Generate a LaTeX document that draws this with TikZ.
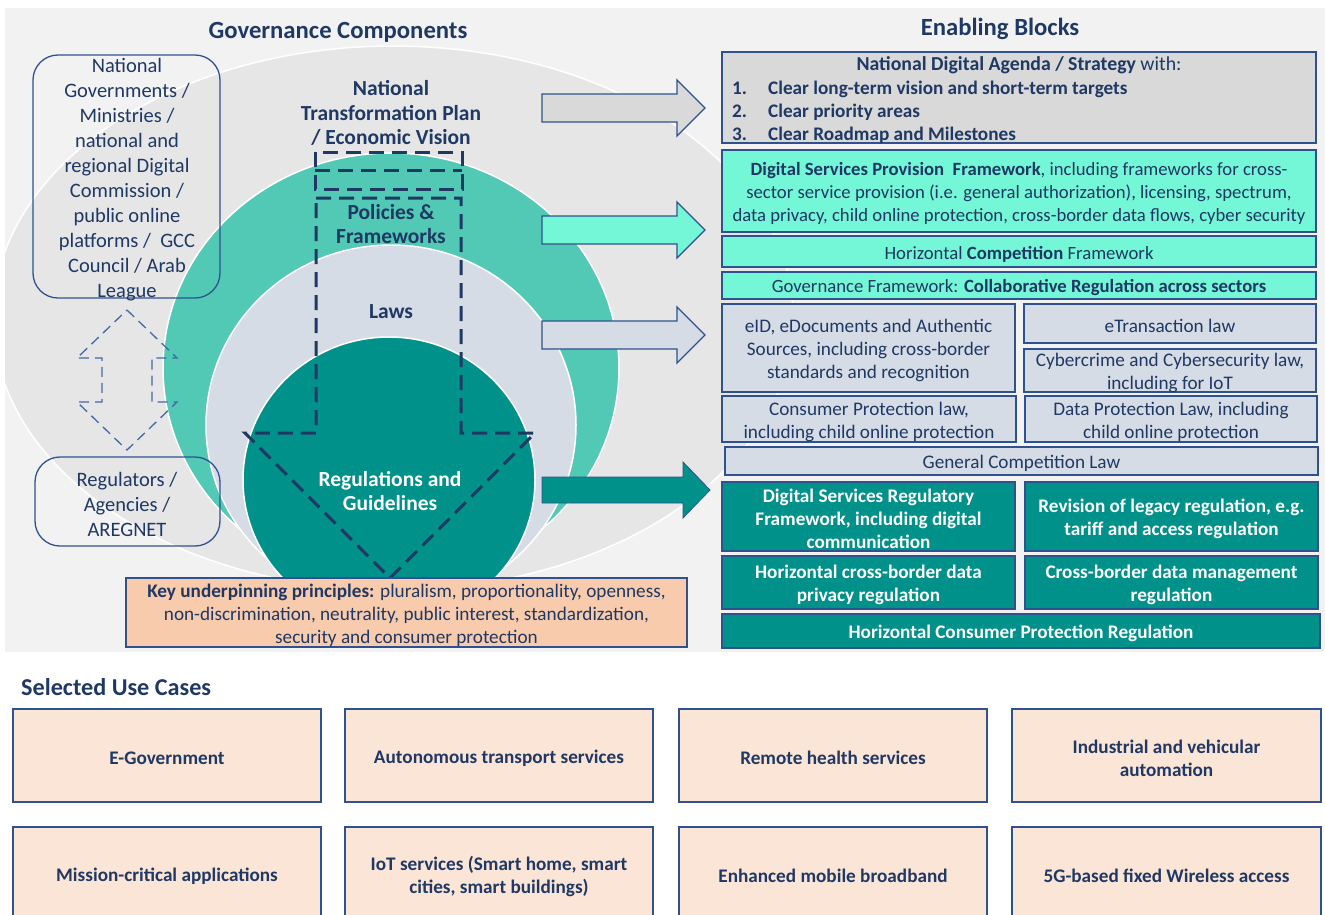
\documentclass[tikz,border=0pt]{standalone}
\usepackage{fontspec}
\setmainfont{Carlito}
\usetikzlibrary{calc}

\definecolor{navy}{HTML}{1F3864}
\definecolor{bord}{HTML}{2F528F}
\definecolor{panelc}{HTML}{F2F2F2}
\definecolor{ellgrey}{HTML}{E6E6E6}
\definecolor{tealc}{HTML}{52C9B5}
\definecolor{lawsc}{HTML}{D6DCE5}
\definecolor{dteal}{HTML}{00918B}
\definecolor{aquac}{HTML}{74F7D7}
\definecolor{greyc}{HTML}{D9D9D9}
\definecolor{peachc}{HTML}{F8CBAD}
\definecolor{ucpeach}{HTML}{FBE5D6}
\definecolor{dashblue}{HTML}{4468A8}

\newcommand\fsbox{\fontsize{19.2}{23}\selectfont}
\newcommand\fsaqua{\fontsize{18.7}{22.7}\selectfont}
\newcommand\fstitle{\fontsize{24.7}{30}\selectfont}
\newcommand\fslabel{\fontsize{21.5}{24.5}\selectfont}
\newcommand\fsleft{\fontsize{20.5}{25}\selectfont}

% box node from corner (x1,y1) to (x2,y2) with a separate text node on top
\newcommand\blk[7]{%
  \pgfmathsetmacro\blkx{(#2+#4)/2}%
  \pgfmathsetmacro\blky{(#3+#5)/2}%
  \pgfmathsetmacro\blkw{#4-#2}%
  \pgfmathsetmacro\blkh{#5-#3}%
  \node[#6, minimum width=\blkw pt, minimum height=\blkh pt] (#1) at (\blkx,\blky) {};
  \node[#6, draw=none, fill=none, yshift=-2.5pt] (#1-t) at (#1.center) {#7};}

\tikzset{
  tbox/.style={draw=bord, line width=1.3pt, inner sep=0pt, outer sep=0pt,
    align=center, text=navy, font=\fsbox},
  greyblk/.style={tbox, fill=greyc},
  aquablk/.style={tbox, fill=aquac, font=\fsaqua},
  lawblk/.style={tbox, fill=lawsc},
  regblk/.style={tbox, fill=dteal, text=white, font=\fsbox\bfseries},
  prinblk/.style={tbox, fill=peachc},
  usecase/.style={tbox, fill=ucpeach, font=\fsbox\bfseries},
  govbox/.style={draw=bord, line width=1.3pt, rounded corners=25pt, inner sep=0pt, outer sep=0pt},
  blockarrow/.style={draw=bord, line width=1.3pt, line join=miter},
  bigdash/.style={draw=navy, line width=3pt, dash pattern=on 15pt off 8pt},
  smalldash/.style={draw=dashblue, line width=1.3pt, dash pattern=on 10pt off 6pt},
  ring/.style={draw=white, line width=1.5pt},
  heading/.style={font=\fstitle\bfseries, text=navy, inner sep=0pt},
  ctrlabel/.style={font=\fslabel\bfseries, text=navy, align=center, inner sep=0pt},
}

\begin{document}
\begin{tikzpicture}[x=1pt,y=-1pt]
\useasboundingbox (0,0) rectangle (1325,914);
\fill[white] (0,0) rectangle (1325,914);

% upper panel
\fill[panelc] (5,8) rectangle (1325,652);

% nested governance layers
\begin{scope}
  \clip (5,8) rectangle (1325,652);
  \fill[ellgrey] (393,318) ellipse [x radius=400pt, y radius=272pt];
  \draw[ring] (393,318) ellipse [x radius=400pt, y radius=272pt];
\end{scope}
\fill[tealc] (391,368) ellipse [x radius=228pt, y radius=215pt];
\draw[ring] (391,368) ellipse [x radius=228pt, y radius=215pt];
\fill[lawsc] (391,425) ellipse [x radius=185pt, y radius=180pt];
\draw[ring] (391,425) ellipse [x radius=185pt, y radius=180pt];
\fill[dteal] (389,480) ellipse [x radius=146pt, y radius=143pt];
\draw[ring] (389,480) ellipse [x radius=146pt, y radius=143pt];

% headings
\node[heading] (gov-head) at (338,32) {Governance Components};
\node[heading] (enab-head) at (1000,29) {Enabling Blocks};

% layer labels
\node[ctrlabel] (ntp) at (391,113) {National\\Transformation Plan\\/ Economic Vision};
\node[ctrlabel] (pol) at (391,224) {Policies \&\\Frameworks};
\node[ctrlabel] (laws) at (391,312) {Laws};
\node[ctrlabel, text=white] (regs) at (390,491) {Regulations and\\Guidelines};

% dashed downward arrow through the layers
\draw[bigdash] (315,152) rectangle (462,189);
\draw[bigdash] (315,170) -- (462,170);
\draw[bigdash] (316,198) -- (461,198) -- (461,433) -- (535,433) -- (390,578)
  -- (245,433) -- (316,433) -- cycle;

% actors on the left
\blk{natgov}{33}{55}{220}{298}{govbox}{}
\node[font=\fsleft, text=navy, align=center, inner sep=0pt] (natgov-txt) at (127,180)
  {National\\Governments /\\Ministries /\\national and\\regional Digital\\Commission /\\public online\\platforms /\ \ GCC\\Council / Arab\\League};
\blk{regul}{35}{457}{220}{546}{govbox}{}
\node[font=\fsleft, text=navy, align=center, inner sep=0pt] (regul-txt) at (127,504)
  {Regulators /\\Agencies /\\AREGNET};

% two-way dashed arrow between the actors
\draw[smalldash] (127,310) -- (177,358) -- (152,358) -- (152,402) -- (177,402)
  -- (127,450) -- (77,402) -- (102,402) -- (102,358) -- (77,358) -- cycle;

% principles
\blk{prin}{126}{578}{687}{647}{prinblk}{\textbf{Key underpinning principles:} pluralism, proportionality, openness,\\non-discrimination, neutrality, public interest, standardization,\\security and consumer protection}

% block arrows towards the enabling blocks
\draw[blockarrow, fill=greyc] (542,94) -- (677,94) -- (677,80) -- (705,108) -- (677,136) -- (677,122) -- (542,122) -- cycle;
\draw[blockarrow, fill=aquac] (542,216) -- (677,216) -- (677,202) -- (705,230) -- (677,258) -- (677,244) -- (542,244) -- cycle;
\draw[blockarrow, fill=lawsc] (542,321) -- (677,321) -- (677,307) -- (705,335) -- (677,363) -- (677,349) -- (542,349) -- cycle;
\draw[blockarrow, fill=dteal, line width=0.8pt] (542,477) -- (683,477) -- (683,462) -- (710,490) -- (683,518) -- (683,503) -- (542,503) -- cycle;

% enabling blocks: strategy
\blk{agenda}{722}{52}{1316}{143}{greyblk}{}
\node[font=\fsbox, text=navy, inner sep=0pt] (agenda-t) at (1019,65)
  {\fontsize{19.8}{23}\selectfont\textbf{National Digital Agenda / Strategy} with:};
\node[anchor=west, font=\fsbox\bfseries, text=navy, inner sep=0pt] (agenda-1) at (732,89)
  {\makebox[36pt][l]{1.}Clear long-term vision and short-term targets};
\node[anchor=west, font=\fsbox\bfseries, text=navy, inner sep=0pt] (agenda-2) at (732,112)
  {\makebox[36pt][l]{2.}Clear priority areas};
\node[anchor=west, font=\fsbox\bfseries, text=navy, inner sep=0pt] (agenda-3) at (732,135)
  {\makebox[36pt][l]{3.}Clear Roadmap and Milestones};

% enabling blocks: policies and frameworks
\blk{dspf}{722}{150}{1316}{232}{aquablk}{\textbf{Digital Services Provision\ \ Framework}, including frameworks for cross-\\sector service provision (i.e. general authorization), licensing, spectrum,\\data privacy, child online protection, cross-border data flows, cyber security}
\blk{hcf}{722}{236}{1316}{267}{aquablk}{Horizontal \textbf{Competition} Framework}
\blk{gfw}{722}{272}{1316}{299}{aquablk}{Governance Framework: \textbf{Collaborative Regulation across sectors}}

% enabling blocks: laws
\blk{eid}{722}{304}{1015}{392}{lawblk}{eID, eDocuments and Authentic\\Sources, including cross-border\\standards and recognition}
\blk{etr}{1024}{304}{1316}{343}{lawblk}{eTransaction law}
\blk{cyb}{1024}{349}{1316}{392}{lawblk}{Cybercrime and Cybersecurity law,\\including for IoT}
\blk{cpl}{722}{396}{1016}{442}{lawblk}{Consumer Protection law,\\including child online protection}
\blk{dpl}{1025}{396}{1317}{442}{lawblk}{Data Protection Law, including\\child online protection}
\blk{gcl}{725}{447}{1318}{475}{lawblk}{General Competition Law}

% enabling blocks: regulations
\blk{dsrf}{722}{482}{1015}{551}{regblk}{Digital Services Regulatory\\Framework, including digital\\communication}
\blk{rev}{1025}{482}{1318}{551}{regblk}{Revision of legacy regulation, e.g.\\tariff and access regulation}
\blk{hcb}{722}{556}{1015}{609}{regblk}{Horizontal cross-border data\\privacy regulation}
\blk{cbd}{1025}{556}{1318}{609}{regblk}{Cross-border data management\\regulation}
\blk{hcp}{722}{614}{1320}{648}{regblk}{Horizontal Consumer Protection Regulation}

% use cases
\node[heading, anchor=west, font=\fontsize{24.2}{29}\selectfont\bfseries] (uc-head) at (21,687) {Selected Use Cases};
\blk{uc1}{13}{709}{321}{802}{usecase}{E-Government}
\blk{uc2}{345}{709}{653}{802}{usecase}{Autonomous transport services}
\blk{uc3}{679}{709}{987}{802}{usecase}{Remote health services}
\blk{uc4}{1012}{709}{1321}{802}{usecase}{Industrial and vehicular\\automation}
\blk{uc5}{13}{827}{321}{920}{usecase}{Mission-critical applications}
\blk{uc6}{345}{827}{653}{920}{usecase}{IoT services (Smart home, smart\\cities, smart buildings)}
\blk{uc7}{679}{827}{987}{920}{usecase}{Enhanced mobile broadband}
\blk{uc8}{1012}{827}{1321}{920}{usecase}{5G-based fixed Wireless access}
\end{tikzpicture}
\end{document}
